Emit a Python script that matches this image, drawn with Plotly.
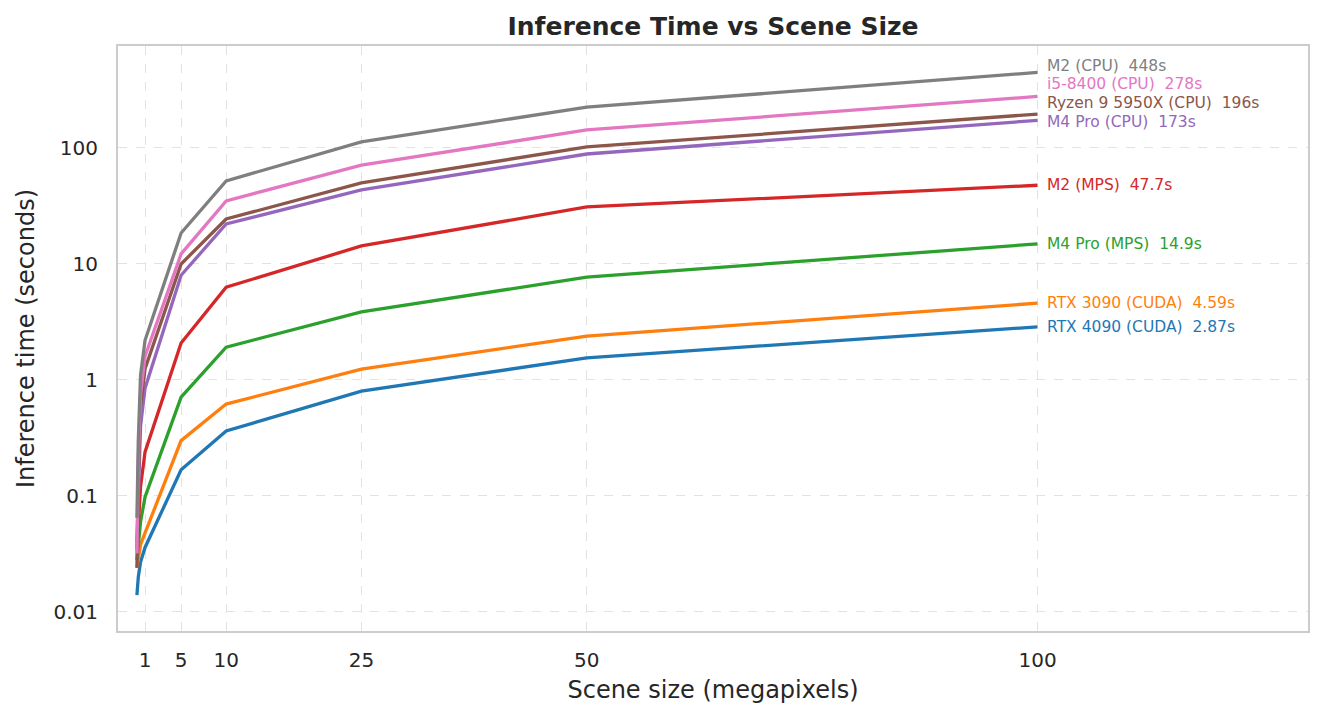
import math
import plotly.graph_objects as go

scene_mp = [0.1, 0.25, 0.5, 1, 5, 10, 25, 50, 100]

series_names = [
    "RTX 4090 (CUDA)", "RTX 3090 (CUDA)", "M4 Pro (MPS)", "M2 (MPS)",
    "M4 Pro (CPU)", "Ryzen 9 5950X (CPU)", "i5-8400 (CPU)", "M2 (CPU)",
]
rtx4090 = [0.014, 0.02, 0.027, 0.036, 0.168, 0.363, 0.80, 1.55, 2.87]
rtx3090 = [0.024, 0.03, 0.038, 0.048, 0.30, 0.62, 1.24, 2.39, 4.59]
m4pro_mps = [0.028, 0.04, 0.06, 0.098, 0.71, 1.92, 3.86, 7.7, 14.9]
m2_mps = [0.035, 0.06, 0.12, 0.24, 2.08, 6.3, 14.3, 31, 47.7]
m4pro_cpu = [0.04, 0.12, 0.4, 0.85, 8.0, 22.1, 43.5, 88.7, 173]
ryzen_cpu = [0.024, 0.15, 0.6, 1.25, 10.0, 24.4, 50, 102, 196]
i5_cpu = [0.032, 0.2, 0.75, 1.6, 12.2, 35, 71, 143, 278]
m2_cpu = [0.065, 0.3, 1.1, 2.2, 18.5, 52, 113, 225, 448]

final_labels = ["2.87s", "4.59s", "14.9s", "47.7s", "173s", "196s", "278s", "448s"]
label_shift = [0, 0, 0, 0, -1.5, 11, 12, 6.5]

colors = ["#1f77b4", "#ff7f0e", "#2ca02c", "#d62728",
          "#9467bd", "#8c564b", "#e377c2", "#7f7f7f"]
all_series = [rtx4090, rtx3090, m4pro_mps, m2_mps, m4pro_cpu, ryzen_cpu, i5_cpu, m2_cpu]

x_ticks = [1, 5, 10, 25, 50, 100]
y_ticks = [0.01, 0.1, 1, 10, 100]
y_tick_text = ["0.01", "0.1", "1", "10", "100"]

fig = go.Figure()
for name, vals, col in zip(series_names, all_series, colors):
    fig.add_trace(go.Scatter(x=scene_mp, y=vals, mode="lines", name=name,
                             line=dict(color=col, width=3.3), showlegend=False))

for name, vals, col, lab, sh in zip(series_names, all_series, colors, final_labels, label_shift):
    fig.add_annotation(x=scene_mp[-1], y=math.log10(vals[-1]), text=f"{name}  {lab}",
                       showarrow=False, xanchor="left", yanchor="middle",
                       xshift=9, yshift=sh, borderpad=0, borderwidth=0,
                       font=dict(family="DejaVu Sans", size=15.5, color=col))

fig.update_layout(
    width=1323, height=721,
    margin=dict(l=118, r=15, t=46, b=90),
    paper_bgcolor="white", plot_bgcolor="white",
    title=dict(text="<b>Inference Time vs Scene Size</b>", x=0.5, xref="paper",
               xanchor="center", y=0.963, yanchor="middle",
               font=dict(family="DejaVu Sans", size=25, color="#262626")),
    font=dict(family="DejaVu Sans", color="#262626"),
)
fig.update_xaxes(range=[-2, 130], tickvals=x_ticks, ticktext=[str(v) for v in x_ticks],
                 showgrid=True, gridcolor="#e2e2e2", gridwidth=1, griddash="dash",
                 showline=True, linecolor="#cccccc", linewidth=2, mirror=True,
                 zeroline=False, ticks="", tickfont=dict(size=20), ticklabelstandoff=10,
                 title=dict(text="Scene size (megapixels)", font=dict(size=24), standoff=10))
fig.update_yaxes(type="log", range=[-2.164, 2.879], tickvals=y_ticks, ticktext=y_tick_text,
                 showgrid=True, gridcolor="#e2e2e2", gridwidth=1, griddash="dash",
                 showline=True, linecolor="#cccccc", linewidth=2, mirror=True,
                 zeroline=False, ticks="", tickfont=dict(size=20), ticklabelstandoff=14,
                 title=dict(text="Inference time (seconds)", font=dict(size=24), standoff=12))

fig.write_html("out.html")
